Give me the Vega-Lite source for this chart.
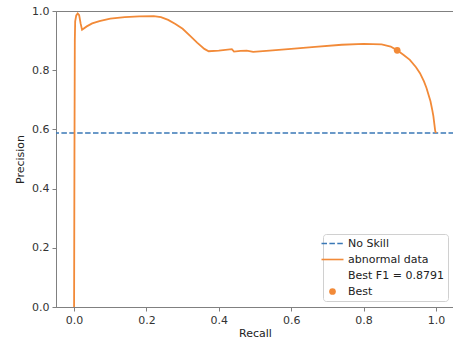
{
  "$schema": "https://vega.github.io/schema/vega-lite/v6.json",
  "width": 398,
  "height": 296,
  "autosize": {"type": "none"},
  "padding": {"left": 56, "top": 11, "right": 0, "bottom": 36},
  "background": "white",
  "config": {
    "view": {"stroke": "#808080", "strokeWidth": 1},
    "axis": {
      "grid": false,
      "domainColor": "#808080",
      "tickColor": "#808080",
      "tickSize": 4,
      "labelColor": "#333333",
      "labelFont": "DejaVu Sans",
      "labelFontSize": 11,
      "labelPadding": 3,
      "titleFont": "DejaVu Sans",
      "titleFontSize": 11,
      "titleFontWeight": "normal",
      "titleColor": "#222222"
    },
    "legend": {
      "labelFont": "DejaVu Sans",
      "labelFontSize": 11,
      "labelColor": "#222222"
    }
  },
  "layer": [
    {
      "data": {"values": [{"y": 0.588, "series": "No Skill"}]},
      "mark": {"type": "rule", "strokeDash": [5.5, 2.4], "strokeWidth": 1.5},
      "encoding": {
        "y": {"field": "y", "type": "quantitative"},
        "color": {"field": "series", "type": "nominal"}
      }
    },
    {
      "data": {"values": [
        {"recall": 0.0, "precision": 0.0, "series": "abnormal data"},
        {"recall": 0.001, "precision": 0.5, "series": "abnormal data"},
        {"recall": 0.002, "precision": 0.9, "series": "abnormal data"},
        {"recall": 0.003, "precision": 0.965, "series": "abnormal data"},
        {"recall": 0.006, "precision": 0.985, "series": "abnormal data"},
        {"recall": 0.01, "precision": 0.992, "series": "abnormal data"},
        {"recall": 0.014, "precision": 0.986, "series": "abnormal data"},
        {"recall": 0.018, "precision": 0.958, "series": "abnormal data"},
        {"recall": 0.022, "precision": 0.937, "series": "abnormal data"},
        {"recall": 0.035, "precision": 0.948, "series": "abnormal data"},
        {"recall": 0.05, "precision": 0.958, "series": "abnormal data"},
        {"recall": 0.07, "precision": 0.966, "series": "abnormal data"},
        {"recall": 0.1, "precision": 0.974, "series": "abnormal data"},
        {"recall": 0.14, "precision": 0.979, "series": "abnormal data"},
        {"recall": 0.18, "precision": 0.982, "series": "abnormal data"},
        {"recall": 0.22, "precision": 0.983, "series": "abnormal data"},
        {"recall": 0.24, "precision": 0.979, "series": "abnormal data"},
        {"recall": 0.26, "precision": 0.97, "series": "abnormal data"},
        {"recall": 0.28, "precision": 0.956, "series": "abnormal data"},
        {"recall": 0.3, "precision": 0.94, "series": "abnormal data"},
        {"recall": 0.32, "precision": 0.917, "series": "abnormal data"},
        {"recall": 0.34, "precision": 0.893, "series": "abnormal data"},
        {"recall": 0.36, "precision": 0.872, "series": "abnormal data"},
        {"recall": 0.372, "precision": 0.864, "series": "abnormal data"},
        {"recall": 0.4, "precision": 0.866, "series": "abnormal data"},
        {"recall": 0.436, "precision": 0.871, "series": "abnormal data"},
        {"recall": 0.442, "precision": 0.863, "series": "abnormal data"},
        {"recall": 0.46, "precision": 0.865, "series": "abnormal data"},
        {"recall": 0.477, "precision": 0.866, "series": "abnormal data"},
        {"recall": 0.495, "precision": 0.862, "series": "abnormal data"},
        {"recall": 0.54, "precision": 0.866, "series": "abnormal data"},
        {"recall": 0.6, "precision": 0.872, "series": "abnormal data"},
        {"recall": 0.666, "precision": 0.879, "series": "abnormal data"},
        {"recall": 0.74, "precision": 0.886, "series": "abnormal data"},
        {"recall": 0.8, "precision": 0.889, "series": "abnormal data"},
        {"recall": 0.85, "precision": 0.887, "series": "abnormal data"},
        {"recall": 0.875, "precision": 0.88, "series": "abnormal data"},
        {"recall": 0.893, "precision": 0.867, "series": "abnormal data"},
        {"recall": 0.91, "precision": 0.852, "series": "abnormal data"},
        {"recall": 0.928, "precision": 0.835, "series": "abnormal data"},
        {"recall": 0.945, "precision": 0.81, "series": "abnormal data"},
        {"recall": 0.956, "precision": 0.79, "series": "abnormal data"},
        {"recall": 0.967, "precision": 0.762, "series": "abnormal data"},
        {"recall": 0.974, "precision": 0.74, "series": "abnormal data"},
        {"recall": 0.98, "precision": 0.715, "series": "abnormal data"},
        {"recall": 0.985, "precision": 0.695, "series": "abnormal data"},
        {"recall": 0.99, "precision": 0.665, "series": "abnormal data"},
        {"recall": 0.993, "precision": 0.645, "series": "abnormal data"},
        {"recall": 0.996, "precision": 0.615, "series": "abnormal data"},
        {"recall": 0.998, "precision": 0.595, "series": "abnormal data"},
        {"recall": 1.0, "precision": 0.588, "series": "abnormal data"}
      ]},
      "mark": {"type": "line", "strokeWidth": 1.8},
      "encoding": {
        "x": {"field": "recall", "type": "quantitative", "sort": null},
        "y": {"field": "precision", "type": "quantitative"},
        "order": {"field": "recall", "type": "quantitative"},
        "color": {"field": "series", "type": "nominal"}
      }
    },
    {
      "data": {"values": [{"recall": 0.893, "precision": 0.867, "series": "Best"}]},
      "mark": {"type": "point", "filled": true, "size": 45, "opacity": 1},
      "encoding": {
        "x": {"field": "recall", "type": "quantitative"},
        "y": {"field": "precision", "type": "quantitative"},
        "color": {"field": "series", "type": "nominal"}
      }
    }
  ],
  "encoding": {
    "x": {
      "type": "quantitative",
      "scale": {"domain": [-0.05, 1.05], "nice": false, "zero": false},
      "axis": {"title": "Recall", "values": [0, 0.2, 0.4, 0.6, 0.8, 1.0], "format": ".1f", "titlePadding": 2}
    },
    "y": {
      "type": "quantitative",
      "scale": {"domain": [0, 1], "nice": false},
      "axis": {"title": "Precision", "values": [0, 0.2, 0.4, 0.6, 0.8, 1.0], "format": ".1f", "titlePadding": 6}
    },
    "color": {
      "type": "nominal",
      "scale": {
        "domain": ["No Skill", "abnormal data", "Best F1 = 0.8791", "Best"],
        "range": ["#3a78b6", "#f28a38", "#ffffff", "#f28a38"]
      },
      "legend": {
        "title": null,
        "orient": "bottom-right",
        "offset": 6,
        "padding": 4,
        "strokeColor": "#d0d0d0",
        "fillColor": "#ffffff",
        "cornerRadius": 3,
        "symbolSize": 484,
        "rowPadding": 4,
        "labelOffset": 10,
        "encode": {
          "symbols": {
            "update": {
              "shape": {"signal": "datum.value === 'Best' ? 'circle' : 'stroke'"},
              "size": {"signal": "datum.value === 'Best' ? 45 : 484"},
              "strokeDash": {"signal": "datum.value === 'No Skill' ? [5.5, 2.4] : []"},
              "stroke": {"signal": "datum.value === 'No Skill' ? '#3a78b6' : '#f28a38'"},
              "fill": {"signal": "datum.value === 'Best' ? '#f28a38' : 'transparent'"},
              "strokeWidth": {"signal": "datum.value === 'Best' ? 0 : 1.6"},
              "opacity": {"signal": "datum.value === 'Best F1 = 0.8791' ? 0 : 1"}
            }
          }
        }
      }
    }
  }
}
